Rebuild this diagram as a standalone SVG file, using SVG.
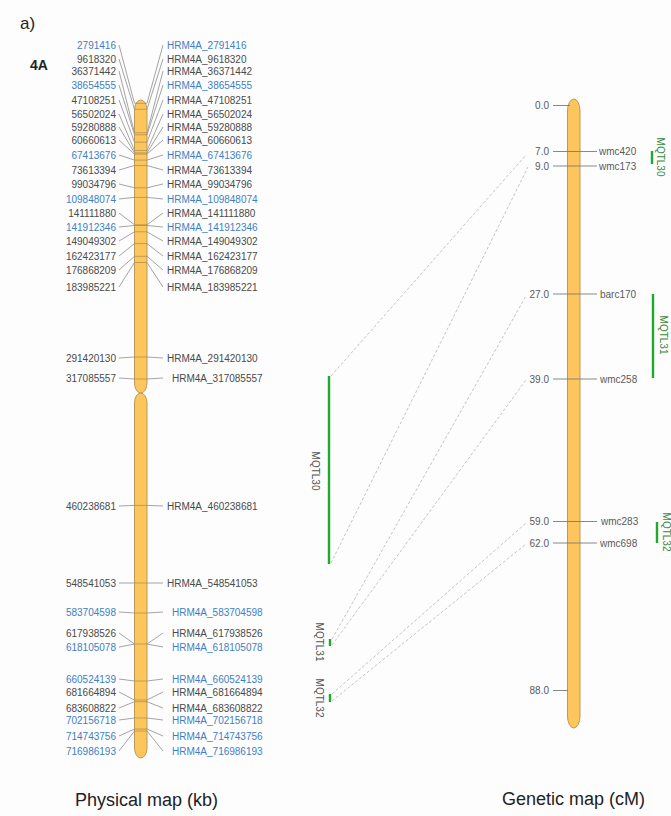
<svg xmlns="http://www.w3.org/2000/svg" width="671" height="816" viewBox="0 0 671 816">
  <style>
    text { font-family: "Liberation Sans", Arial, sans-serif; }
    .lbl { font-size: 10px; fill: #4a4a4a; }
    .blue { fill: #3d7fc4; }
    .end { text-anchor: end; }
    .gl { font-size: 10px; fill: #5a5a5a; }
    .mq { font-size: 10px; text-anchor: middle; }
    .mqL { fill: #555; }
    .mqR { fill: #3a8a3a; }
    .title { font-size: 18px; fill: #222; }
    .chrom { fill: #fdc65d; stroke: #b99a5c; stroke-width: 1; }
    .tick { stroke: #9a9a9a; stroke-width: 0.9; fill: none; }
    .band { stroke: #8c6f3e; stroke-opacity: 0.5; stroke-width: 1; }
    .gtick { stroke: #7a7a7a; stroke-width: 0.9; }
    .qtl { stroke: #1faa2f; stroke-width: 2.4; }
    .link { stroke: #b5b5b5; stroke-width: 0.8; stroke-dasharray: 3 2; fill: none; }
  </style>

  <rect width="671" height="816" fill="#fdfdfd"/>

  <text x="20" y="29" style="font-size:17px;fill:#222">a)</text>
  <text x="30" y="70" style="font-size:14px;font-weight:bold;fill:#222">4A</text>

  <!-- physical map chromosome 4A -->
  <g id="physical-chromosome">
    <path class="chrom" d="M134.5,110 A6.25,10 0 0 1 147,110 L147,383 A6.25,10 0 0 1 134.5,383 Z"/>
    <path class="chrom" d="M134.5,403 A6.25,10 0 0 1 147,403 L147,748 A6.25,10 0 0 1 134.5,748 Z"/>
    <g id="bands">
      <line class="band" x1="134.5" x2="147" y1="103.3" y2="103.3"/>
      <line class="band" x1="134.5" x2="147" y1="109.3" y2="109.3"/>
      <line class="band" x1="134.5" x2="147" y1="132.8" y2="132.8"/>
      <line class="band" x1="134.5" x2="147" y1="134.8" y2="134.8"/>
      <line class="band" x1="134.5" x2="147" y1="142.2" y2="142.2"/>
      <line class="band" x1="134.5" x2="147" y1="150.5" y2="150.5"/>
      <line class="band" x1="134.5" x2="147" y1="152.9" y2="152.9"/>
      <line class="band" x1="134.5" x2="147" y1="154.1" y2="154.1"/>
      <line class="band" x1="134.5" x2="147" y1="160.1" y2="160.1"/>
      <line class="band" x1="134.5" x2="147" y1="165.5" y2="165.5"/>
      <line class="band" x1="134.5" x2="147" y1="187.8" y2="187.8"/>
      <line class="band" x1="134.5" x2="147" y1="197.4" y2="197.4"/>
      <line class="band" x1="134.5" x2="147" y1="224.8" y2="224.8"/>
      <line class="band" x1="134.5" x2="147" y1="225.5" y2="225.5"/>
      <line class="band" x1="134.5" x2="147" y1="231.8" y2="231.8"/>
      <line class="band" x1="134.5" x2="147" y1="243.6" y2="243.6"/>
      <line class="band" x1="134.5" x2="147" y1="256.3" y2="256.3"/>
      <line class="band" x1="134.5" x2="147" y1="262.5" y2="262.5"/>
      <line class="band" x1="134.5" x2="147" y1="357" y2="357"/>
      <line class="band" x1="134.5" x2="147" y1="379" y2="379"/>
      <line class="band" x1="134.5" x2="147" y1="505.4" y2="505.4"/>
      <line class="band" x1="134.5" x2="147" y1="583" y2="583"/>
      <line class="band" x1="134.5" x2="147" y1="613" y2="613"/>
      <line class="band" x1="134.5" x2="147" y1="644" y2="644"/>
      <line class="band" x1="134.5" x2="147" y1="681" y2="681"/>
      <line class="band" x1="134.5" x2="147" y1="700" y2="700"/>
      <line class="band" x1="134.5" x2="147" y1="701.7" y2="701.7"/>
      <line class="band" x1="134.5" x2="147" y1="718" y2="718"/>
      <line class="band" x1="134.5" x2="147" y1="729" y2="729"/>
      <line class="band" x1="134.5" x2="147" y1="731" y2="731"/>
    </g>
  </g>

  <!-- marker leader lines, physical map -->
  <g id="physical-ticks">
    <polyline class="tick" points="119,45 134.5,103.3"/><polyline class="tick" points="147,103.3 163,45"/>
    <polyline class="tick" points="119,59 134.5,109.3"/><polyline class="tick" points="147,109.3 163,59"/>
    <polyline class="tick" points="119,71 134.5,132.8"/><polyline class="tick" points="147,132.8 163,71"/>
    <polyline class="tick" points="119,85 134.5,134.8"/><polyline class="tick" points="147,134.8 163,85"/>
    <polyline class="tick" points="119,100 134.5,142.2"/><polyline class="tick" points="147,142.2 163,100"/>
    <polyline class="tick" points="119,114 134.5,150.5"/><polyline class="tick" points="147,150.5 163,114"/>
    <polyline class="tick" points="119,127 134.5,152.9"/><polyline class="tick" points="147,152.9 163,127"/>
    <polyline class="tick" points="119,140 134.5,154.1"/><polyline class="tick" points="147,154.1 163,140"/>
    <polyline class="tick" points="119,155 134.5,160.1"/><polyline class="tick" points="147,160.1 163,155"/>
    <polyline class="tick" points="119,170 134.5,165.5"/><polyline class="tick" points="147,165.5 163,170"/>
    <polyline class="tick" points="119,184 134.5,187.8"/><polyline class="tick" points="147,187.8 163,184"/>
    <polyline class="tick" points="119,199 134.5,197.4"/><polyline class="tick" points="147,197.4 163,199"/>
    <polyline class="tick" points="119,213 134.5,224.8"/><polyline class="tick" points="147,224.8 163,213"/>
    <polyline class="tick" points="119,227 134.5,225.5"/><polyline class="tick" points="147,225.5 163,227"/>
    <polyline class="tick" points="119,241 134.5,231.8"/><polyline class="tick" points="147,231.8 163,241"/>
    <polyline class="tick" points="119,256 134.5,243.6"/><polyline class="tick" points="147,243.6 163,256"/>
    <polyline class="tick" points="119,270 134.5,256.3"/><polyline class="tick" points="147,256.3 163,270"/>
    <polyline class="tick" points="119,287 134.5,262.5"/><polyline class="tick" points="147,262.5 163,287"/>
    <polyline class="tick" points="119,358 134.5,357"/><polyline class="tick" points="147,357 163,358"/>
    <polyline class="tick" points="119,378 134.5,379"/><polyline class="tick" points="147,379 163,378"/>
    <polyline class="tick" points="119,506 134.5,505.4"/><polyline class="tick" points="147,505.4 163,506"/>
    <polyline class="tick" points="119,583 134.5,583"/><polyline class="tick" points="147,583 163,583"/>
    <polyline class="tick" points="119,612 134.5,613"/><polyline class="tick" points="147,613 163,612"/>
    <polyline class="tick" points="119,633 134.5,644"/><polyline class="tick" points="147,644 163,633"/>
    <polyline class="tick" points="119,647 134.5,644.1"/><polyline class="tick" points="147,644.1 163,647"/>
    <polyline class="tick" points="119,679 134.5,681"/><polyline class="tick" points="147,681 163,679"/>
    <polyline class="tick" points="119,692 134.5,700"/><polyline class="tick" points="147,700 163,692"/>
    <polyline class="tick" points="119,708 134.5,701.7"/><polyline class="tick" points="147,701.7 163,708"/>
    <polyline class="tick" points="119,720 134.5,718"/><polyline class="tick" points="147,718 163,720"/>
    <polyline class="tick" points="119,736 134.5,729"/><polyline class="tick" points="147,729 163,736"/>
    <polyline class="tick" points="119,751 134.5,731"/><polyline class="tick" points="147,731 163,751"/>
  </g>

  <!-- positions (left) -->
  <g id="physical-positions" class="lbl end">
    <text x="116" y="48.6" class="blue">2791416</text>
    <text x="116" y="62.6">9618320</text>
    <text x="116" y="74.6">36371442</text>
    <text x="116" y="88.6" class="blue">38654555</text>
    <text x="116" y="103.6">47108251</text>
    <text x="116" y="117.6">56502024</text>
    <text x="116" y="130.6">59280888</text>
    <text x="116" y="143.6">60660613</text>
    <text x="116" y="158.6" class="blue">67413676</text>
    <text x="116" y="173.6">73613394</text>
    <text x="116" y="187.6">99034796</text>
    <text x="116" y="202.6" class="blue">109848074</text>
    <text x="116" y="216.6">141111880</text>
    <text x="116" y="230.6" class="blue">141912346</text>
    <text x="116" y="244.6">149049302</text>
    <text x="116" y="259.6">162423177</text>
    <text x="116" y="273.6">176868209</text>
    <text x="116" y="290.6">183985221</text>
    <text x="116" y="361.6">291420130</text>
    <text x="116" y="381.6">317085557</text>
    <text x="116" y="509.6">460238681</text>
    <text x="116" y="586.6">548541053</text>
    <text x="116" y="615.6" class="blue">583704598</text>
    <text x="116" y="636.6">617938526</text>
    <text x="116" y="650.6" class="blue">618105078</text>
    <text x="116" y="682.6" class="blue">660524139</text>
    <text x="116" y="695.6">681664894</text>
    <text x="116" y="711.6">683608822</text>
    <text x="116" y="723.6" class="blue">702156718</text>
    <text x="116" y="739.6" class="blue">714743756</text>
    <text x="116" y="754.6" class="blue">716986193</text>
  </g>

  <!-- marker names (right) -->
  <g id="physical-markers" class="lbl">
    <text x="167" y="48.6" class="blue">HRM4A_2791416</text>
    <text x="167" y="62.6">HRM4A_9618320</text>
    <text x="167" y="74.6">HRM4A_36371442</text>
    <text x="167" y="88.6" class="blue">HRM4A_38654555</text>
    <text x="167" y="103.6">HRM4A_47108251</text>
    <text x="167" y="117.6">HRM4A_56502024</text>
    <text x="167" y="130.6">HRM4A_59280888</text>
    <text x="167" y="143.6">HRM4A_60660613</text>
    <text x="167" y="158.6" class="blue">HRM4A_67413676</text>
    <text x="167" y="173.6">HRM4A_73613394</text>
    <text x="167" y="187.6">HRM4A_99034796</text>
    <text x="167" y="202.6" class="blue">HRM4A_109848074</text>
    <text x="167" y="216.6">HRM4A_141111880</text>
    <text x="167" y="230.6" class="blue">HRM4A_141912346</text>
    <text x="167" y="244.6">HRM4A_149049302</text>
    <text x="167" y="259.6">HRM4A_162423177</text>
    <text x="167" y="273.6">HRM4A_176868209</text>
    <text x="167" y="290.6">HRM4A_183985221</text>
    <text x="167" y="361.6">HRM4A_291420130</text>
    <text x="172" y="381.6">HRM4A_317085557</text>
    <text x="167" y="509.6">HRM4A_460238681</text>
    <text x="167" y="586.6">HRM4A_548541053</text>
    <text x="172" y="615.6" class="blue">HRM4A_583704598</text>
    <text x="172" y="636.6">HRM4A_617938526</text>
    <text x="172" y="650.6" class="blue">HRM4A_618105078</text>
    <text x="172" y="682.6" class="blue">HRM4A_660524139</text>
    <text x="172" y="695.6">HRM4A_681664894</text>
    <text x="172" y="711.6">HRM4A_683608822</text>
    <text x="172" y="723.6" class="blue">HRM4A_702156718</text>
    <text x="172" y="739.6" class="blue">HRM4A_714743756</text>
    <text x="172" y="754.6" class="blue">HRM4A_716986193</text>
  </g>

  <!-- MQTL intervals on the physical map -->
  <g id="mqtl-physical">
    <line class="qtl" x1="329" y1="376" x2="329" y2="564"/>
    <text class="mq mqL" transform="translate(311.5,471) rotate(90)">MQTL30</text>
    <line class="qtl" x1="330" y1="639" x2="330" y2="646"/>
    <text class="mq mqL" transform="translate(315.5,642) rotate(90)">MQTL31</text>
    <line class="qtl" x1="330" y1="694" x2="330" y2="702"/>
    <text class="mq mqL" transform="translate(315.5,698) rotate(90)">MQTL32</text>
  </g>

  <!-- genetic map chromosome 4A -->
  <g id="genetic-chromosome">
    <path class="chrom" d="M567.5,111 A6.25,12 0 0 1 580,111 L580,716 A6.25,12 0 0 1 567.5,716 Z"/>
    <line class="gtick" x1="553" x2="570" y1="105.5" y2="105.5"/>
    <line class="gtick" x1="553" x2="597" y1="151.5" y2="151.5"/>
    <line class="gtick" x1="553" x2="597" y1="166" y2="166"/>
    <line class="gtick" x1="553" x2="597" y1="294" y2="294"/>
    <line class="gtick" x1="553" x2="597" y1="379" y2="379"/>
    <line class="gtick" x1="553" x2="597" y1="521.5" y2="521.5"/>
    <line class="gtick" x1="553" x2="597" y1="543" y2="543"/>
    <line class="gtick" x1="553" x2="568" y1="690.5" y2="690.5"/>
  </g>

  <g id="genetic-positions" class="gl end">
    <text x="549" y="109">0.0</text>
    <text x="549" y="155">7.0</text>
    <text x="549" y="169.5">9.0</text>
    <text x="549" y="297.5">27.0</text>
    <text x="549" y="382.5">39.0</text>
    <text x="549" y="525">59.0</text>
    <text x="549" y="546.5">62.0</text>
    <text x="549" y="694">88.0</text>
  </g>

  <g id="genetic-markers" class="gl">
    <text x="599" y="155">wmc420</text>
    <text x="599" y="169.5">wmc173</text>
    <text x="600" y="297.5">barc170</text>
    <text x="600" y="382.5">wmc258</text>
    <text x="601" y="525">wmc283</text>
    <text x="600" y="546.5">wmc698</text>
  </g>

  <!-- MQTL intervals on the genetic map -->
  <g id="mqtl-genetic">
    <line class="qtl" x1="652" y1="151" x2="652" y2="164"/>
    <text class="mq mqR" transform="translate(656.5,157) rotate(90)">MQTL30</text>
    <line class="qtl" x1="653" y1="294" x2="653" y2="378"/>
    <text class="mq mqR" transform="translate(659.5,335) rotate(90)">MQTL31</text>
    <line class="qtl" x1="657" y1="522" x2="657" y2="543"/>
    <text class="mq mqR" transform="translate(663,532) rotate(90)">MQTL32</text>
  </g>

  <!-- links between the two maps -->
  <g id="connectors">
    <line class="link" x1="331" y1="376" x2="526" y2="155"/>
    <line class="link" x1="331" y1="563" x2="528" y2="167"/>
    <line class="link" x1="332" y1="639" x2="526" y2="296"/>
    <line class="link" x1="332" y1="645" x2="526" y2="380"/>
    <line class="link" x1="332" y1="694" x2="526" y2="523"/>
    <line class="link" x1="332" y1="701" x2="526" y2="544"/>
  </g>

  <text x="75" y="806" class="title">Physical map (kb)</text>
  <text x="502" y="805" class="title">Genetic map (cM)</text>
</svg>
